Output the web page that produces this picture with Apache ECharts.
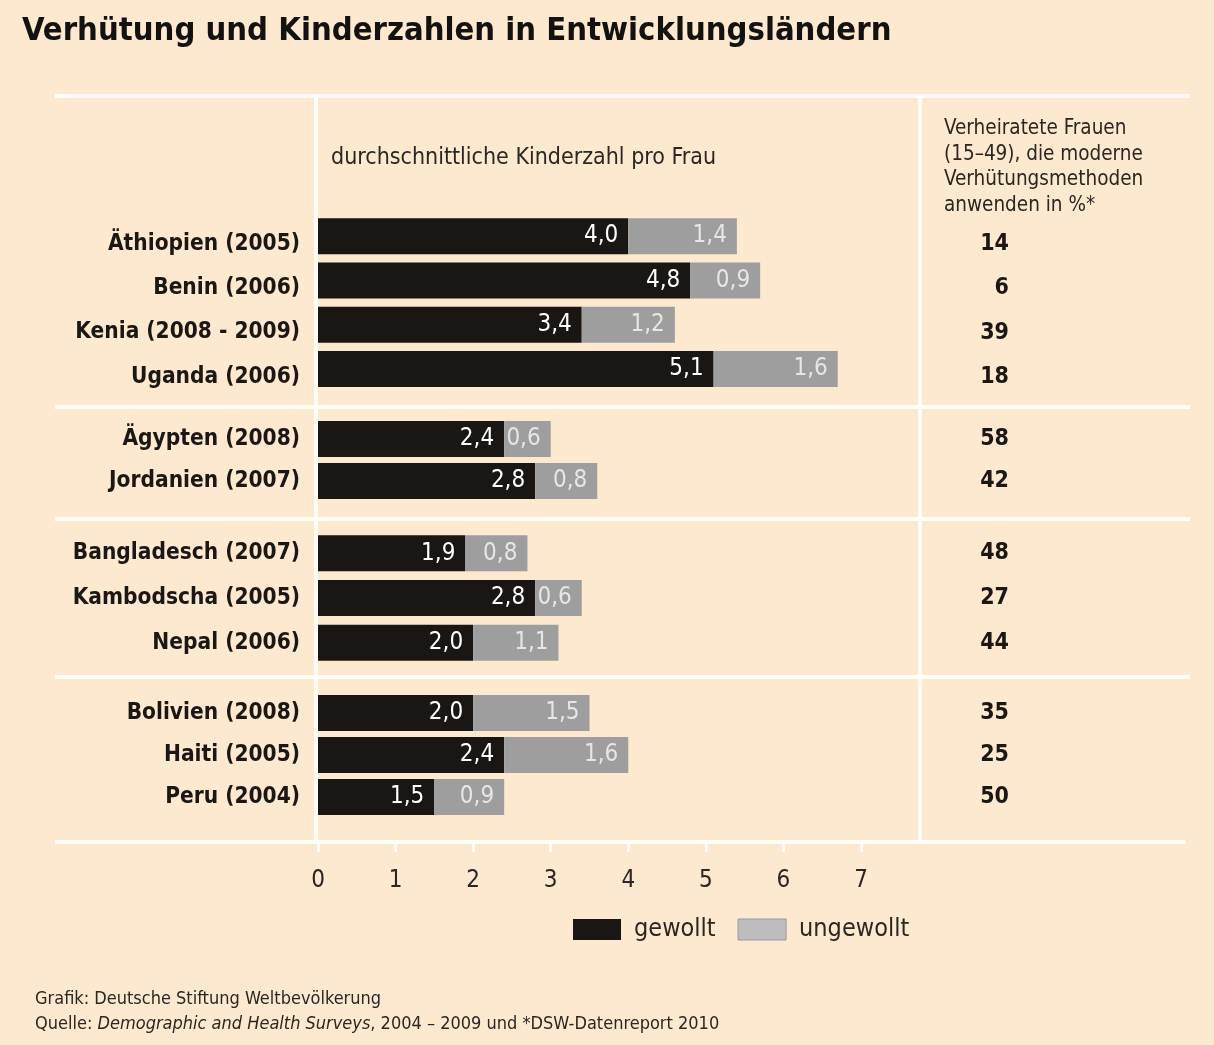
<!DOCTYPE html>
<html>
<head>
<meta charset="utf-8">
<script src="https://cdn.jsdelivr.net/npm/echarts@6/dist/echarts.min.js"></script>
<style>
html,body{margin:0;padding:0;background:#fde9cf;}
#chart{width:1214px;height:1045px;}
</style>
</head>
<body>
<div id="chart"></div>
<script>
// ---- data ----
var categories = ['Äthiopien (2005)','Benin (2006)','Kenia (2008 - 2009)','Uganda (2006)',
  'Ägypten (2008)','Jordanien (2007)',
  'Bangladesch (2007)','Kambodscha (2005)','Nepal (2006)',
  'Bolivien (2008)','Haiti (2005)','Peru (2004)'];
var wanted   = [4.0, 4.8, 3.4, 5.1, 2.4, 2.8, 1.9, 2.8, 2.0, 2.0, 2.4, 1.5];
var unwanted = [1.4, 0.9, 1.2, 1.6, 0.6, 0.8, 0.8, 0.6, 1.1, 1.5, 1.6, 0.9];
var contraceptionPct = [14, 6, 39, 18, 58, 42, 48, 27, 44, 35, 25, 50];
var groupSizes = [4, 2, 3, 3];
var xTicks = [0, 1, 2, 3, 4, 5, 6, 7];

// ---- layout ----
var FONT = '"Liberation Sans Narrow","DejaVu Sans Condensed","Roboto Condensed",sans-serif';
var groupBoxes = [ {top:214, height:177, labelShift:8}, {top:418, height:84, labelShift:0},
                   {top:531, height:134, labelShift:0}, {top:692, height:126, labelShift:0} ];
var AX_LEFT = 318, AX_W = 543;
var TXT = '#2a2623', DARK = '#1b1714';

var grids = [], xAxes = [], yAxes = [], series = [];
var fmt = function (p) { return p.value.toFixed(1).replace('.', ','); };
var start = 0;
groupSizes.forEach(function (n, g) {
  var cats = categories.slice(start, start + n);
  var w = wanted.slice(start, start + n);
  var u = unwanted.slice(start, start + n);
  var pc = contraceptionPct.slice(start, start + n).map(String);
  start += n;
  var box = groupBoxes[g];
  var rich = {s:{padding:[box.labelShift*2,0,0,0], color:DARK, fontFamily:FONT, fontWeight:'bold', fontSize:22.5}};
  var wrap = function (v) { return '{s|' + v + '}'; };
  grids.push({left: AX_LEFT, width: AX_W, top: box.top, height: box.height});
  xAxes.push({type:'value', gridIndex:g, min:0, max:7, interval:1, show:false});
  yAxes.push({type:'category', gridIndex:g, data:cats, inverse:true,
    axisLine:{show:false}, axisTick:{show:false},
    axisLabel:{margin:18, formatter:wrap, rich:rich}});
  yAxes.push({type:'category', gridIndex:g, data:pc, inverse:true, position:'right',
    axisLine:{show:false}, axisTick:{show:false},
    axisLabel:{margin:148, align:'right', formatter:wrap,
      rich:{s:{padding:[box.labelShift*2,0,0,0], color:DARK, fontFamily:FONT, fontWeight:'bold', fontSize:23}}}});
  series.push({name:'gewollt', type:'bar', stack:'s'+g, xAxisIndex:g, yAxisIndex:2*g,
    data:w, barWidth:36, itemStyle:{color:'#1a1614'},
    label:{show:true, position:'insideRight', distance:10, formatter:fmt,
      color:'#ffffff', fontFamily:FONT, fontSize:24}});
  series.push({name:'ungewollt', type:'bar', stack:'s'+g, xAxisIndex:g, yAxisIndex:2*g,
    data:u, barWidth:36, itemStyle:{color:'#9e9e9f'},
    label:{show:true, position:'insideRight', distance:10, formatter:fmt,
      color:'#e6e6e7', fontFamily:FONT, fontSize:24}});
});
// bottom axis grid
grids.push({left: AX_LEFT, width: AX_W, top: 841, height: 1});
xAxes.push({type:'value', gridIndex:4, min:xTicks[0], max:xTicks[xTicks.length-1], interval:1,
  axisLine:{show:false}, splitLine:{show:false},
  axisTick:{show:true, length:10, lineStyle:{color:'#ffffff', width:3}},
  axisLabel:{margin:27, color:TXT, fontFamily:FONT, fontSize:24}});
yAxes.push({type:'category', gridIndex:4, data:[''], show:false});

var LINE = {stroke:'#fffdf8', lineWidth:4};
function hline(y, x1, x2){ return {type:'line', shape:{x1:x1,y1:y,x2:x2,y2:y}, style:LINE, z:0}; }
function vline(x, y1, y2){ return {type:'line', shape:{x1:x,y1:y1,x2:x,y2:y2}, style:LINE, z:0}; }

var option = {
  backgroundColor:'#fde9cf',
  animation:false,
  grid:grids, xAxis:xAxes, yAxis:yAxes, series:series,
  legend:{left:568, top:912, icon:'rect', itemWidth:48, itemHeight:21, itemGap:22,
    textStyle:{fontFamily:FONT, fontSize:25, color:TXT, padding:[0,0,0,8]},
    data:[{name:'gewollt', itemStyle:{color:'#1a1614'}},
          {name:'ungewollt', itemStyle:{color:'#bdbdc0', borderColor:'#9a9a9c', borderWidth:1}}]},
  graphic:[
    hline(96, 55, 1190), hline(407, 55, 1190), hline(519, 55, 1190), hline(677, 55, 1190), hline(842, 55, 1186),
    vline(316, 96, 842), vline(920, 96, 842),
    {type:'text', left:22, top:15, style:{text:'Verhütung und Kinderzahlen in Entwicklungsländern',
      font:'bold 32.5px '+FONT, fill:'#141210'}},
    {type:'text', left:331, top:147, style:{text:'durchschnittliche Kinderzahl pro Frau',
      font:'23px '+FONT, fill:TXT}},
    {type:'text', left:944, top:116, style:{text:'Verheiratete Frauen\n(15–49), die moderne\nVerhütungsmethoden\nanwenden in %*',
      font:'20.5px '+FONT, lineHeight:25.5, fill:TXT}},
    {type:'text', left:35, top:990, style:{text:'Grafik: Deutsche Stiftung Weltbevölkerung',
      font:'18px '+FONT, fill:TXT}},
    {type:'text', left:35, top:1015, style:{
      text:'Quelle: {i|Demographic and Health Surveys}, 2004 – 2009 und *DSW-Datenreport 2010',
      font:'18px '+FONT, fill:TXT,
      rich:{i:{fontStyle:'italic', fontFamily:FONT, fontSize:18, fill:TXT}}}}
  ]
};
var chart = echarts.init(document.getElementById('chart'));
chart.setOption(option);
</script>
</body>
</html>
